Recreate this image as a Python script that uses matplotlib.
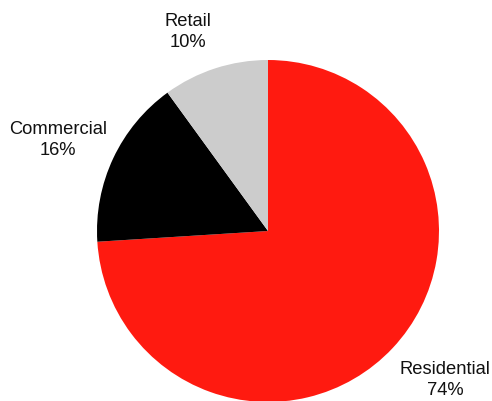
import matplotlib.pyplot as plt

plt.rcParams["font.family"] = ["Liberation Sans", "DejaVu Sans"]

# share of floor space by use
categories = ["Residential", "Commercial", "Retail"]
shares = [74, 16, 10]
colors = ["#ff1a10", "#000000", "#cccccc"]

# label anchor points in pixel coordinates (origin bottom left)
label_xy = [(445, 21), (58, 261), (188, 369)]

fig = plt.figure(figsize=(4.92, 4.01), dpi=100)
ax = fig.add_axes([0, 0, 1, 1])

ax.pie(
    shares,
    colors=colors,
    startangle=90,
    counterclock=False,
    center=(268, 170),
    radius=171,
    frame=True,
)
ax.set_xlim(0, 492)
ax.set_ylim(0, 401)
ax.set_aspect("equal")
ax.axis("off")

for name, val, (x, y) in zip(categories, shares, label_xy):
    ax.text(x, y, f"{name}\n{val}%", ha="center", va="center",
            fontsize=13.2, linespacing=1.35, color="#111111")

fig.savefig("out.png", dpi=100)
